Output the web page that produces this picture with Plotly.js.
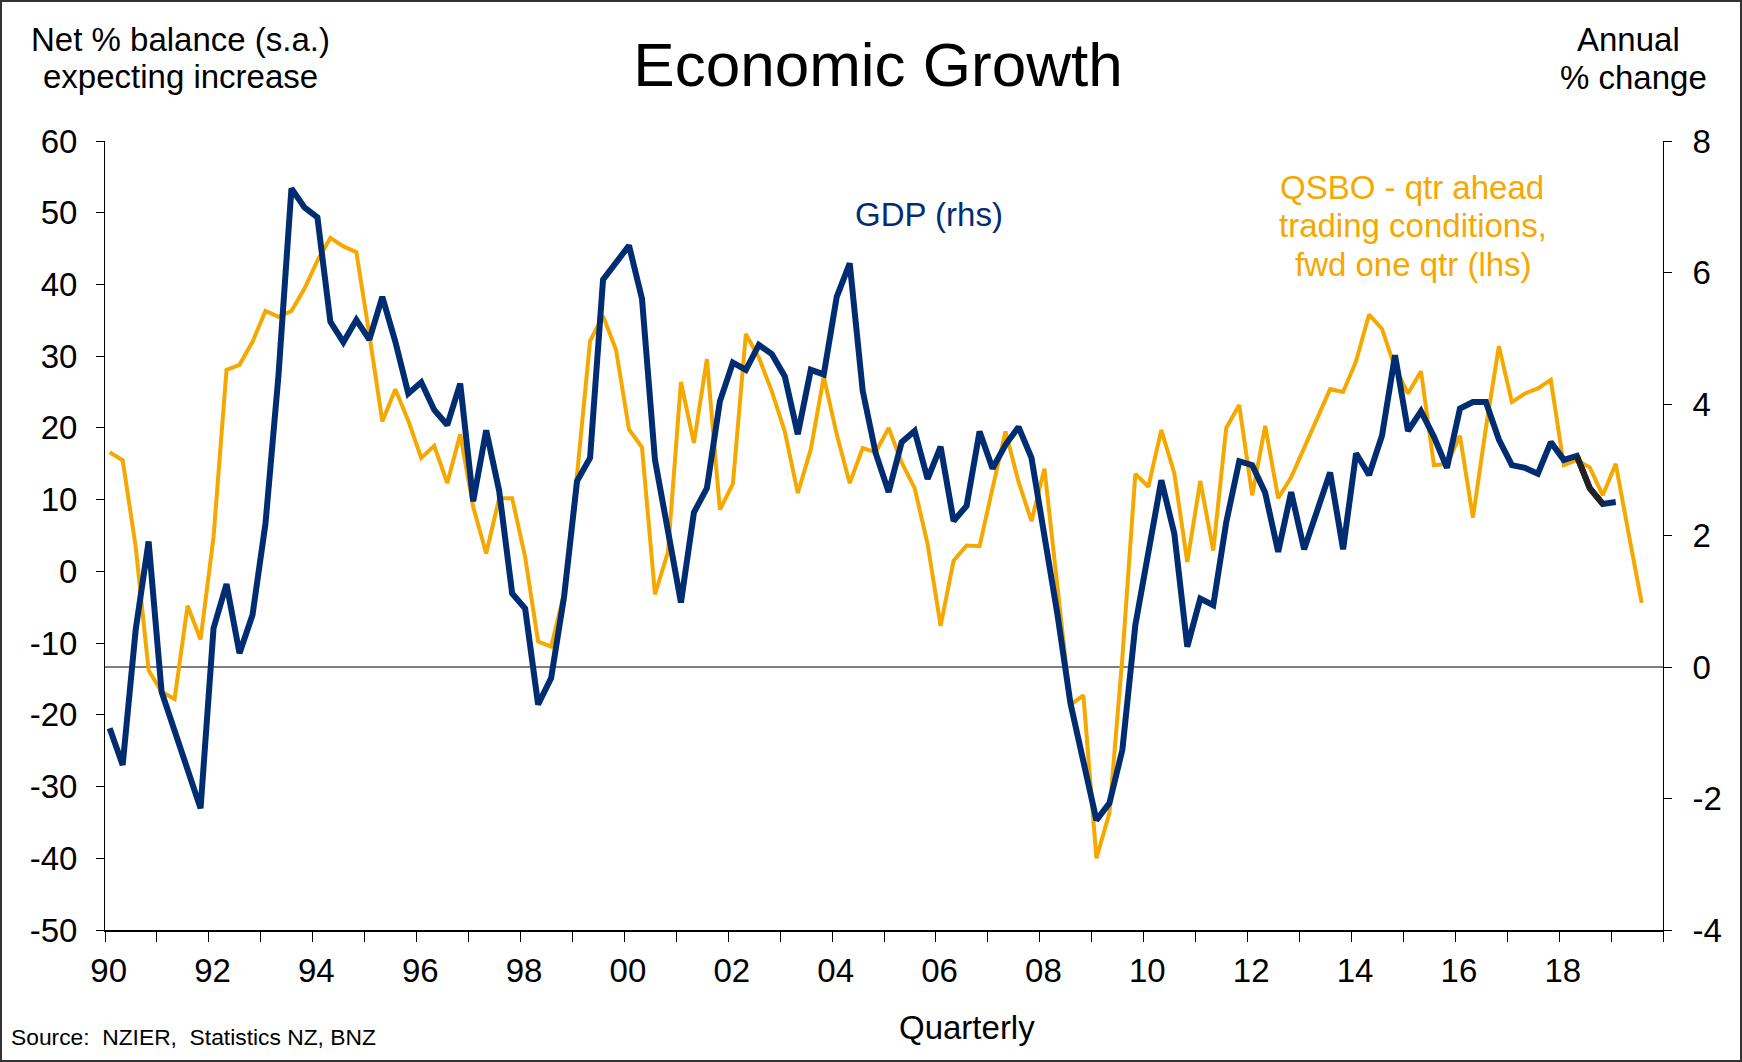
<!DOCTYPE html>
<html>
<head>
<meta charset="utf-8">
<script src="https://cdn.plot.ly/plotly-3.0.1.min.js"></script>
<style>
  html, body { margin: 0; padding: 0; background: #fff; }
  #wrap { position: relative; width: 1742px; height: 1062px; }
  #chart { position: absolute; left: 0; top: 0; width: 1742px; height: 1062px; }
  #frame { position: absolute; left: 0; top: 0; width: 1742px; height: 1062px;
           box-sizing: border-box; border: 2px solid #333; pointer-events: none; }
</style>
</head>
<body>
<div id="wrap"><div id="chart"></div><div id="frame"></div></div>
<script>
// ---- Data (quarterly, starting 1990 Q1) ----
const startYear = 1990;

// GDP, annual % change (right-hand axis), 1990Q1 .. 2019Q1
const gdpAnnual = [
  -0.93, -1.49, 0.56, 1.91, -0.38, -0.98, -1.57, -2.15,
  0.59, 1.26, 0.21, 0.79, 2.18, 4.43, 7.28, 6.99,
  6.84, 5.25, 4.94, 5.28, 4.98, 5.63, 4.95, 4.16,
  4.33, 3.91, 3.68, 4.31, 2.52, 3.60, 2.68, 1.12,
  0.89, -0.57, -0.17, 1.07, 2.83, 3.18, 5.89, 6.14,
  6.41, 5.60, 3.15, 2.07, 0.98, 2.35, 2.72, 4.04,
  4.63, 4.52, 4.90, 4.76, 4.42, 3.54, 4.52, 4.45,
  5.63, 6.14, 4.20, 3.25, 2.66, 3.42, 3.59, 2.86,
  3.35, 2.22, 2.45, 3.58, 3.02, 3.38, 3.65, 3.18,
  2.00, 0.80, -0.55, -1.47, -2.33, -2.07, -1.26, 0.64,
  1.78, 2.84, 2.03, 0.31, 1.04, 0.94, 2.20, 3.13,
  3.07, 2.65, 1.75, 2.66, 1.79, 2.40, 2.96, 1.79,
  3.25, 2.92, 3.52, 4.74, 3.59, 3.89, 3.50, 3.03,
  3.93, 4.03, 4.03, 3.46, 3.07, 3.03, 2.94, 3.42,
  3.15, 3.21, 2.72, 2.48, 2.51
];

// Latest revised GDP segment (drawn dark), 2018Q2 .. 2018Q4
const gdpRecentQuarters = ["2018Q2", "2018Q3", "2018Q4"];
const gdpRecent = [3.21, 2.72, 2.48];

// QSBO - qtr ahead trading conditions, fwd one qtr (left-hand axis), 1990Q1 .. 2019Q3
const qsboTrading = [
  16.6, 15.5, 3.5, -13.8, -16.8, -17.8, -4.8, -9.5,
  4.8, 28.1, 28.8, 32.0, 36.3, 35.5, 36.3, 39.4,
  43.3, 46.5, 45.3, 44.5, 33.0, 20.9, 25.4, 21.0,
  15.8, 17.5, 12.3, 19.1, 9.0, 2.5, 10.2, 10.2,
  2.0, -9.8, -10.5, -3.1, 13.5, 32.1, 35.6, 30.9,
  19.8, 17.3, -3.2, 2.7, 26.4, 17.9, 29.6, 8.6,
  12.2, 33.1, 29.8, 25.1, 19.5, 10.9, 17.0, 27.1,
  19.1, 12.3, 17.2, 16.6, 20.0, 15.2, 11.6, 3.8,
  -7.6, 1.5, 3.6, 3.5, 11.6, 19.5, 12.5, 7.0,
  14.3, -2.0, -18.6, -17.3, -40.0, -33.7, -12.0, 13.6,
  11.8, 19.7, 13.7, 1.3, 12.6, 2.9, 20.0, 23.2,
  10.6, 20.3, 10.2, 13.1, 17.1, 21.2, 25.4, 25.0,
  29.3, 35.8, 33.8, 28.4, 24.8, 27.9, 14.8, 15.0,
  18.9, 7.5, 20.0, 31.4, 23.6, 24.8, 25.5, 26.7,
  14.8, 15.5, 14.5, 10.6, 15.0, 5.2, -4.4
];

// Axis ticks and labels
const yearTicks = [];
for (let y = 1990; y <= 2020; y++) yearTicks.push(y);
const yearLabelYears = [1990, 1992, 1994, 1996, 1998, 2000, 2002, 2004, 2006, 2008, 2010, 2012, 2014, 2016, 2018];
const yearLabels = ["90", "92", "94", "96", "98", "00", "02", "04", "06", "08", "10", "12", "14", "16", "18"];
const leftTicks = [-50, -40, -30, -20, -10, 0, 10, 20, 30, 40, 50, 60];
const leftLabels = ["-50", "-40", "-30", "-20", "-10", "0", "10", "20", "30", "40", "50", "60"];
const rightTicks = [-4, -2, 0, 2, 4, 6, 8];
const rightLabels = ["-4", "-2", "0", "2", "4", "6", "8"];

// ---- Helpers ----
const qOffset = 0.09;       // points sit slightly inside their quarter
const labelOffset = 0.07;   // year labels sit slightly right of the year tick
function quarterX(i) { return startYear + i / 4 + qOffset; }
function labelToX(lbl) {
  const yr = parseInt(lbl.slice(0, 4), 10), q = parseInt(lbl.slice(5), 10);
  return yr + (q - 1) / 4 + qOffset;
}
const gdpX = gdpAnnual.map((_, i) => quarterX(i));
const qsboX = qsboTrading.map((_, i) => quarterX(i));
const recentX = gdpRecentQuarters.map(labelToX);

const ORANGE = "#F5A800";
const NAVY = "#002D72";
const FONT = "Liberation Sans, Arial, sans-serif";

const W = 1742, H = 1062;
const M = { l: 105, r: 79, t: 141, b: 132 };
const PW = W - M.l - M.r, PH = H - M.t - M.b;
function px(x) { return (x - M.l) / PW; }
function py(y) { return (H - M.b - y) / PH; }

function note(text, x, y, opts) {
  return Object.assign({
    text: text, xref: "paper", yref: "paper", x: px(x), y: py(y),
    xanchor: "center", yanchor: "middle", showarrow: false,
    font: { family: FONT, size: 33, color: "#000" }
  }, opts || {});
}

const traces = [
  { x: qsboX, y: qsboTrading, type: "scatter", mode: "lines", name: "QSBO",
    line: { color: ORANGE, width: 4 }, yaxis: "y", hoverinfo: "skip" },
  { x: gdpX, y: gdpAnnual, type: "scatter", mode: "lines", name: "GDP (rhs)",
    line: { color: NAVY, width: 6 }, yaxis: "y2", hoverinfo: "skip" },
  { x: recentX, y: gdpRecent, type: "scatter", mode: "lines", name: "GDP recent",
    line: { color: "#222222", width: 6 }, yaxis: "y2", hoverinfo: "skip" }
];

const axisCommon = {
  showgrid: false, zeroline: false, showline: true, linecolor: "#000",
  ticks: "outside", tickcolor: "#000", tickwidth: 1,
  tickfont: { family: FONT, size: 33, color: "#000" }, fixedrange: true
};

const layout = {
  width: W, height: H,
  margin: M,
  paper_bgcolor: "#fff", plot_bgcolor: "#fff",
  showlegend: false,
  font: { family: FONT, color: "#000" },
  title: { text: "Economic Growth", x: 878 / W, xref: "container", xanchor: "center",
           y: 1 - 64 / H, yref: "container", yanchor: "middle",
           font: { family: FONT, size: 62, color: "#000" } },
  xaxis: Object.assign({}, axisCommon, {
    range: [1990, 2020], tickmode: "array",
    tickvals: yearLabelYears.map(y => y + labelOffset), ticktext: yearLabels,
    ticks: "", ticklen: 0, linewidth: 2, ticklabelstandoff: 10,
    minor: { tickmode: "array", tickvals: yearTicks, ticks: "outside", ticklen: 10,
             tickwidth: 1, tickcolor: "#000", showgrid: false }
  }),
  yaxis: Object.assign({}, axisCommon, {
    range: [-50, 60], tickmode: "array", tickvals: leftTicks, ticktext: leftLabels,
    ticklen: 8, linewidth: 1, ticklabelstandoff: 12
  }),
  yaxis2: Object.assign({}, axisCommon, {
    range: [-4, 8], tickmode: "array", tickvals: rightTicks, ticktext: rightLabels,
    ticklen: 8, linewidth: 1, overlaying: "y", side: "right", ticklabelstandoff: 14
  }),
  shapes: [
    { type: "line", xref: "paper", x0: 0, x1: 1, yref: "y2", y0: 0, y1: 0,
      line: { color: "#000", width: 1 }, layer: "below" }
  ],
  annotations: [
    note("Net % balance (s.a.)", 180, 39),
    note("expecting increase", 180, 76),
    note("Annual", 1628, 39),
    note("% change", 1633, 77),
    note("GDP (rhs)", 929, 214, { font: { family: FONT, size: 33, color: NAVY } }),
    note("QSBO - qtr ahead", 1412, 187, { font: { family: FONT, size: 33, color: ORANGE } }),
    note("trading conditions,", 1413, 226, { font: { family: FONT, size: 33, color: ORANGE } }),
    note("fwd one qtr (lhs)", 1413, 264, { font: { family: FONT, size: 33, color: ORANGE } }),
    note("Quarterly", 967, 1027),
    note("Source:&nbsp; NZIER,&nbsp; Statistics NZ, BNZ", 9, 1037,
         { xanchor: "left", font: { family: FONT, size: 22.8, color: "#000" } })
  ]
};

Plotly.newPlot("chart", traces, layout, { displayModeBar: false, staticPlot: true });
</script>
</body>
</html>
